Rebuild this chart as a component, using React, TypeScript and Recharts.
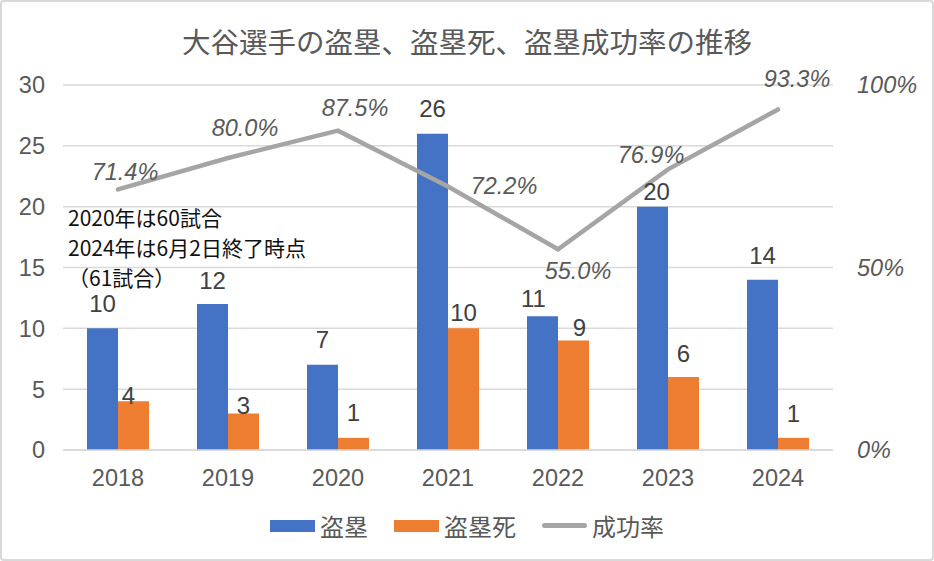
import React from 'react';
import {
  ComposedChart, Bar, Line, XAxis, YAxis, CartesianGrid, LabelList,
} from 'recharts';

// ── Data ─────────────────────────────────────────────────────────────

const years = ['2018', '2019', '2020', '2021', '2022', '2023', '2024'];
const steals = [10, 12, 7, 26, 11, 20, 14];
const caughtStealing = [4, 3, 1, 10, 9, 6, 1];
const successRate = [0.714, 0.8, 0.875, 0.722, 0.55, 0.769, 0.933];
const leftTicks = [0, 5, 10, 15, 20, 25, 30];
const rightTicks = [0, 0.5, 1];

const TITLE = '大谷選手の盗塁、盗塁死、盗塁成功率の推移';
const NOTES = ['2020年は60試合', '2024年は6月2日終了時点', '（61試合）'];

const data = years.map((year, i) => ({
  year,
  steals: steals[i],
  caught: caughtStealing[i],
  rate: successRate[i],
}));

// ── Style ────────────────────────────────────────────────────────────

const BLUE = '#4472C4';
const ORANGE = '#ED7D31';
const GRAY = '#A5A5A5';
const TEXT = '#595959';
const FONT = '"Liberation Sans", "Noto Sans CJK JP", sans-serif';
const CJK = '"Noto Sans CJK JP", "Liberation Sans", sans-serif';

// label nudges [dx, dy] relative to the bar top / line point (Excel-style manual placement)
const stealNudge = [[0, -25], [0, -24], [0, -25], [0, -25], [-9, -18], [4, -15], [0, -24]];
const caughtNudge = [[-5, -6], [0, -8], [0, -25], [0, -16], [6, -13], [0, -24], [0, -24]];
const rateNudge = [[7, -17], [17, -30], [17, -23], [56, 0], [20, 22], [-17, -14], [19, -30]];

const barLabel = (nudge: number[][]) => (props: any) => {
  const { x, y, width, value, index } = props;
  const [dx, dy] = nudge[index] || [0, -20];
  return (
    <text
      x={Number(x) + Number(width) / 2 + dx}
      y={Number(y) + dy}
      textAnchor="middle"
      dominantBaseline="central"
      fontSize={24}
      fill="#404040"
      fontFamily={FONT}
    >
      {value}
    </text>
  );
};

const rateLabel = (props: any) => {
  const { x, y, value, index } = props;
  const [dx, dy] = rateNudge[index] || [0, -20];
  return (
    <text
      x={Number(x) + dx}
      y={Number(y) + dy}
      textAnchor="middle"
      dominantBaseline="central"
      fontSize={23.5}
      fontStyle="italic"
      fill={TEXT}
      fontFamily={FONT}
    >
      {(Number(value) * 100).toFixed(1)}%
    </text>
  );
};

function LegendItem({ color, label, line }: { color: string; label: string; line?: boolean }) {
  return (
    <div style={{ display: 'flex', alignItems: 'center', marginRight: 26 }}>
      <div
        style={{
          width: 45,
          height: line ? 5 : 12,
          background: color,
          borderRadius: line ? 3 : 0,
          marginRight: 5,
        }}
      />
      <span style={{ fontSize: 24, color: TEXT, fontFamily: CJK }}>{label}</span>
    </div>
  );
}

export default function App() {
  return (
    <div style={{ position: 'relative', width: 934, height: 561, background: '#fff', fontFamily: FONT }}>
      <style>{'body{margin:0}'}</style>
      <ComposedChart
        width={934}
        height={561}
        data={data}
        margin={{ top: 85, right: 0, bottom: 81, left: 0 }}
        barGap={0}
      >
        <CartesianGrid vertical={false} stroke="#d9d9d9" strokeWidth={1.5} />
        <XAxis
          dataKey="year"
          height={30}
          axisLine={{ stroke: '#d9d9d9', strokeWidth: 1.5 }}
          tickLine={false}
          tickMargin={13}
          tick={{ fontSize: 23.5, fill: TEXT, fontFamily: FONT }}
        />
        <YAxis
          domain={[0, 30]}
          ticks={leftTicks}
          width={63}
          axisLine={false}
          tickLine={false}
          tickMargin={12}
          tick={{ fontSize: 23.5, fill: TEXT, fontFamily: FONT }}
        />
        <YAxis
          yAxisId="right"
          orientation="right"
          domain={[0, 1]}
          ticks={rightTicks}
          width={101}
          axisLine={false}
          tickLine={false}
          tickMargin={18}
          tickFormatter={(v: number) => `${Math.round(v * 100)}%`}
          tick={{ fontSize: 23.5, fill: TEXT, fontStyle: 'italic', fontFamily: FONT }}
        />
        <Bar dataKey="steals" name="盗塁" fill={BLUE} barSize={31} isAnimationActive={false}>
          <LabelList dataKey="steals" content={barLabel(stealNudge)} />
        </Bar>
        <Bar dataKey="caught" name="盗塁死" fill={ORANGE} barSize={31} isAnimationActive={false}>
          <LabelList dataKey="caught" content={barLabel(caughtNudge)} />
        </Bar>
        <Line
          yAxisId="right"
          type="linear"
          dataKey="rate"
          name="成功率"
          stroke={GRAY}
          strokeWidth={4.5}
          strokeLinecap="round"
          dot={false}
          isAnimationActive={false}
        >
          <LabelList dataKey="rate" content={rateLabel} />
        </Line>
        <text x={467} y={40} textAnchor="middle" dominantBaseline="central" fontSize={28.5} fill={TEXT} fontFamily={CJK}>
          {TITLE}
        </text>
        {NOTES.map((t, i) => (
          <text
            key={t}
            x={68}
            y={217 + i * 30}
            dominantBaseline="central"
            fontSize={21}
            fill="#111"
            fontFamily={CJK}
          >
            {t}
          </text>
        ))}
      </ComposedChart>

      {/* legend */}
      <div
        style={{
          position: 'absolute',
          top: 508,
          left: 0,
          width: 960,
          display: 'flex',
          justifyContent: 'center',
        }}
      >
        <LegendItem color={BLUE} label="盗塁" />
        <LegendItem color={ORANGE} label="盗塁死" />
        <LegendItem color={GRAY} label="成功率" line />
      </div>

      {/* outer frame */}
      <div
        style={{
          position: 'absolute',
          inset: 0,
          border: '2px solid #d9d9d9',
          borderRadius: 4,
          pointerEvents: 'none',
        }}
      />
    </div>
  );
}
